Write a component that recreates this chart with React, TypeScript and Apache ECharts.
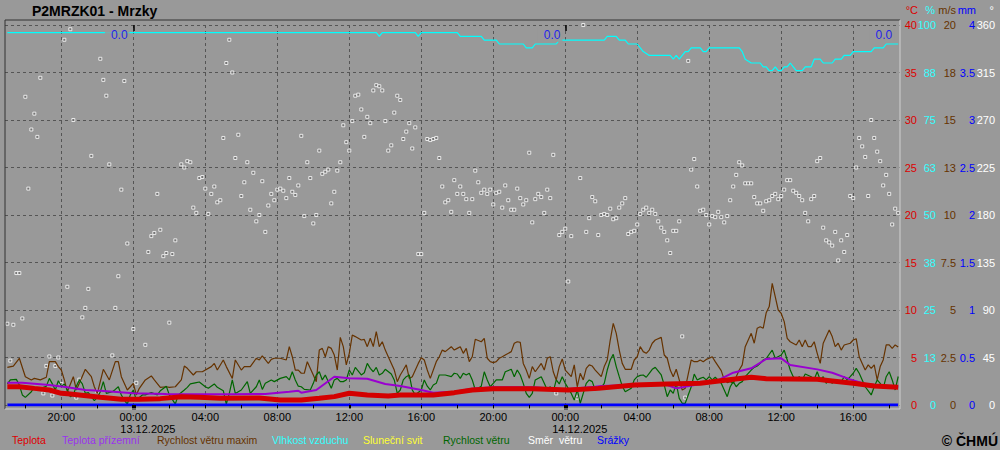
import React, { useEffect, useRef } from "react";
import * as echarts from "echarts";

const FONT = "'Liberation Sans', Arial, sans-serif";

// Time is counted in 10-minute slots from 12.12.2025 17:00 (= hour -7 relative to 13.12.2025 00:00)
const SLOT0_HOUR = -7;
const slotHour = (s: number) => SLOT0_HOUR + s / 6;

// Teplota [slot, °C]
const teplota: [number, number][] = [
  [0, 1.93], [4, 1.93], [9, 1.75], [14, 1.58], [18, 1.23], [21, 1.15], [24, 1.05], [31, 0.81], [38, 0.6], [44, 0.6],
  [51, 0.67], [58, 0.88], [64, 0.81], [71, 0.7], [84, 0.74], [91, 0.53], [98, 0.53], [104, 0.7], [109, 0.88], [114, 1.23],
  [120, 1.05], [127, 0.95], [131, 1.05], [142, 1.05], [149, 1.3], [155, 1.58], [162, 1.72], [175, 1.72], [187, 1.58], [197, 1.75],
  [209, 2.11], [220, 2.21], [231, 2.28], [242, 2.7], [248, 2.91], [253, 2.77], [270, 2.7], [275, 2.53], [282, 2.28], [289, 2.0], [297, 1.86],
];

// Teplota přízemní [slot, °C]
const teplotaPrizemni: [number, number][] = [
  [0, 2.35], [5, 2.35], [14, 2.11], [20, 1.86], [26, 1.58], [31, 1.51], [42, 1.23], [53, 1.16], [64, 1.12], [75, 1.12],
  [86, 1.16], [94, 1.4], [97, 1.5], [98, 1.3], [103, 1.58], [109, 2.98], [114, 2.81], [120, 2.77], [126, 2.21], [131, 2.0],
  [138, 1.58], [142, 1.3], [149, 1.4], [155, 1.72], [162, 1.86], [175, 1.86], [186, 1.65], [196, 1.93], [198, 2.0], [209, 2.11],
  [220, 2.11], [223, 1.75], [231, 2.21], [236, 2.46], [242, 3.4], [248, 3.86], [253, 4.84], [258, 4.91], [261, 4.21], [270, 3.75],
  [275, 3.4], [281, 2.7], [286, 2.21], [296, 1.93], [297, 1.93],
];

// Vlhkost vzduchu [slot, %]
const vlhkost: [number, number][] = [
  [0, 98], [123, 98], [124, 97], [125, 98], [136, 98], [137, 97], [138, 98], [150, 98], [151, 97], [158, 97],
  [159, 96], [163, 96], [164, 95], [172, 95], [173, 94], [175, 94], [176, 95], [183, 95], [184, 96], [199, 96],
  [200, 97], [203, 97], [204, 96], [206, 96], [207, 95], [210, 95], [211, 94], [212, 93], [214, 92], [221, 92],
  [222, 91], [223, 92], [224, 91], [225, 92], [226, 93], [227, 93], [228, 94], [231, 94], [232, 93], [233, 93],
  [234, 94], [244, 94], [245, 93], [246, 91], [248, 90], [251, 90], [252, 89], [253, 89], [254, 88], [255, 88],
  [256, 89], [257, 88], [258, 88], [259, 89], [260, 89], [261, 90], [262, 89], [263, 88], [265, 88], [266, 89],
  [268, 89], [269, 91], [271, 91], [272, 90], [275, 90], [276, 91], [278, 91], [279, 92], [281, 92], [282, 93],
  [288, 93], [289, 94], [292, 94], [293, 95], [297, 95],
];

// Rychlost větru maxim [slot, m/s]
const rychlostMaxim: [number, number][] = [
  [0, 1.98], [2, 2.05], [4, 2.46], [6, 1.49], [8, 1.32], [9, 1.4], [11, 1.32], [13, 1.46], [14, 2.28], [16, 2.28],
  [17, 2.02], [18, 1.84], [19, 1.32], [20, 0.7], [22, 1.49], [23, 0.79], [24, 1.14], [26, 1.88], [28, 1.49], [29, 0.96],
  [30, 0.61], [32, 1.88], [34, 1.32], [36, 2.28], [37, 2.28], [38, 1.49], [40, 0.79], [41, 0.96], [42, 1.14], [43, 0.53],
  [44, 0.88], [46, 1.32], [48, 1.53], [49, 1.32], [51, 0.93], [53, 0.96], [54, 0.93], [56, 0.96], [58, 1.32], [59, 2.05],
  [60, 1.93], [62, 1.58], [63, 1.75], [65, 1.75], [68, 2.02], [69, 2.19], [70, 1.84], [72, 2.37], [73, 2.02], [75, 1.4],
  [76, 2.37], [78, 1.84], [79, 2.02], [81, 2.02], [83, 2.46], [84, 2.37], [85, 2.58], [87, 2.19], [88, 2.4], [89, 2.46],
  [91, 2.46], [93, 2.37], [94, 3.07], [95, 2.54], [96, 1.84], [97, 1.84],
  [98, 1.67], [99, 1.67], [100, 2.28], [102, 1.58], [103, 1.23], [104, 2.89], [105, 2.98], [106, 2.54], [107, 3.07], [108, 2.98],
  [109, 2.63], [110, 1.84], [111, 3.56], [112, 3.07], [113, 2.11], [114, 2.72], [115, 3.68], [116, 3.6], [118, 3.42], [119, 3.45],
  [120, 3.07], [121, 3.51], [122, 3.07], [123, 3.86], [124, 3.07], [125, 3.33], [126, 2.89], [127, 2.54], [129, 1.84], [130, 1.23],
  [131, 1.58], [132, 1.84], [133, 2.11], [134, 1.4], [135, 1.49], [137, 2.19], [138, 2.49], [139, 2.37], [140, 1.84], [141, 1.4],
  [143, 2.28], [144, 2.54], [145, 2.89], [146, 2.81], [148, 3.07], [149, 2.89], [150, 2.98], [151, 3.07], [152, 2.72], [153, 2.98],
  [154, 2.28], [155, 2.54], [156, 3.46], [158, 3.33], [159, 3.51], [160, 2.46], [161, 2.28], [162, 2.23], [163, 2.28], [164, 2.46],
  [165, 2.54], [166, 2.63], [168, 2.81], [169, 3.25], [170, 3.33], [171, 3.3], [172, 2.19], [173, 1.84], [174, 1.4], [175, 2.02],
  [176, 1.75], [178, 2.19], [179, 1.84], [180, 2.46], [181, 2.54], [182, 1.75], [183, 1.32], [184, 2.02], [185, 2.42], [186, 1.84],
  [188, 1.49], [189, 2.11], [190, 0.96], [191, 1.67], [192, 1.32], [193, 1.93], [194, 2.11], [195, 2.05], [196, 1.84],
  [198, 1.49], [199, 2.02], [200, 2.37], [201, 3.42], [202, 4.3], [203, 3.77], [204, 2.89], [205, 2.19], [206, 1.88], [208, 1.88],
  [209, 2.37], [210, 2.54], [211, 3.07], [212, 2.81], [213, 2.72], [214, 2.89], [215, 3.25], [216, 3.42], [218, 3.56], [219, 2.63],
  [220, 2.46], [221, 1.84], [222, 1.49], [223, 1.88], [224, 1.32], [225, 0.79], [226, 0.88], [228, 2.37], [229, 2.28], [230, 2.28],
  [231, 2.37], [232, 2.28], [233, 2.4], [234, 2.46], [235, 2.54], [236, 2.28], [238, 1.81], [239, 1.32], [240, 1.18], [241, 1.23],
  [242, 1.14], [243, 1.49], [244, 1.84], [245, 2.11], [246, 3.07], [248, 3.77], [249, 3.25], [250, 4.04], [251, 4.12], [252, 4.04],
  [253, 4.86], [254, 5.18], [255, 6.4], [256, 5.7], [257, 5.0], [258, 4.82], [259, 4.39], [260, 3.51], [261, 3.33], [263, 3.16],
  [264, 3.42], [265, 3.07], [266, 3.42], [267, 3.07], [268, 3.07], [269, 3.33], [270, 2.72], [271, 2.19], [272, 3.25], [274, 3.95],
  [275, 3.6], [276, 3.07], [277, 3.25], [278, 2.89], [279, 3.16], [281, 3.25], [282, 3.42], [283, 3.49], [284, 2.54], [285, 2.19],
  [286, 1.84], [287, 2.11], [288, 1.93], [289, 2.11], [290, 1.32], [291, 2.02], [292, 2.37], [293, 3.16], [294, 3.16], [295, 2.98],
  [296, 3.16], [297, 3.05],
];

// Rychlost větru [slot, m/s]
const rychlostVetru: [number, number][] = [
  [0, 1.11], [1, 1.32], [3, 1.35], [4, 1.05], [5, 0.53], [6, 0.4], [8, 0.7], [9, 0.93], [10, 0.88], [11, 0.79],
  [12, 0.93], [13, 0.99], [14, 1.4], [15, 1.11], [16, 0.79], [17, 1.28], [18, 0.99], [19, 1.11], [20, 0.79], [21, 0.44],
  [22, 0.53], [23, 0.99], [24, 1.32], [25, 1.11], [26, 0.61], [27, 0.65], [29, 0.23], [30, 0.4], [31, 0.7], [32, 1.23],
  [33, 0.61], [35, 0.7], [36, 0.82], [37, 0.96], [38, 0.53], [39, 0.26], [40, 0.05], [41, 0.53], [42, 0.79], [43, 0.26],
  [45, 0.53], [46, 0.53], [48, 0.65], [50, 0.53], [51, 0.75], [53, 0.99], [54, 0.53], [56, 0.05], [57, 0.53], [59, 0.79],
  [60, 0.93], [61, 1.11], [63, 1.18], [64, 1.21], [66, 0.96], [67, 0.88], [69, 1.11], [70, 0.93], [72, 0.75], [73, 0.05],
  [74, 0.61], [75, 1.32], [76, 0.61], [78, 0.79], [80, 1.23], [81, 0.61], [83, 0.96], [84, 1.32], [85, 0.82], [86, 1.14],
  [88, 1.32], [89, 1.23], [91, 1.4], [93, 1.49], [94, 1.32], [95, 1.75], [96, 1.32], [97, 0.99],
  [98, 0.96], [99, 0.82], [101, 0.79], [102, 1.14], [103, 1.58], [104, 1.75], [105, 1.32], [106, 1.58], [108, 0.88], [109, 1.32],
  [110, 1.4], [111, 1.23], [112, 1.23], [113, 1.32], [114, 1.84], [115, 1.58], [116, 1.98], [118, 1.58], [119, 1.7], [120, 2.19],
  [121, 1.93], [122, 1.75], [123, 1.98], [124, 1.58], [125, 1.67], [126, 1.88], [128, 1.63], [129, 1.32], [130, 0.61], [131, 0.79],
  [132, 1.32], [133, 1.49], [134, 1.58], [135, 0.79], [136, 0.53], [138, 0.79], [139, 1.32], [140, 0.99], [141, 0.79], [142, 1.05],
  [143, 1.14], [144, 1.58], [145, 1.58], [146, 1.58], [148, 1.49], [149, 1.67], [150, 1.63], [151, 1.4], [152, 1.67], [153, 1.58],
  [154, 1.67], [155, 1.32], [156, 0.79], [158, 0.99], [159, 1.75], [160, 1.32], [161, 0.96], [162, 1.14], [163, 1.32], [164, 1.32],
  [165, 1.32], [166, 1.75], [168, 1.88], [169, 1.49], [170, 1.84], [171, 1.58], [172, 1.14], [173, 0.61], [174, 0.4], [175, 0.61],
  [176, 1.32], [178, 1.49], [179, 1.14], [180, 0.79], [181, 0.96], [182, 0.7], [183, 1.32], [184, 1.11], [185, 1.49], [186, 1.14],
  [188, 0.61], [189, 0.26], [190, 0.79], [191, 0.09], [192, 0.61], [193, 1.14], [194, 1.32], [195, 1.23], [196, 0.79],
  [198, 0.93], [199, 1.14], [200, 1.84], [201, 2.37], [202, 2.67], [203, 2.02], [204, 1.49], [205, 0.99], [206, 0.7], [208, 0.88],
  [209, 1.32], [210, 1.49], [211, 1.56], [212, 1.58], [213, 1.46], [214, 1.67], [215, 1.88], [216, 1.98], [218, 1.58], [219, 1.05],
  [220, 0.44], [221, 0.79], [222, 0.61], [223, 1.14], [224, 0.35], [225, 0.09], [226, 0.09], [228, 0.96], [229, 1.63], [230, 1.32],
  [231, 1.4], [232, 1.46], [233, 1.32], [234, 1.49], [235, 1.32], [236, 1.46], [238, 1.14], [239, 0.79], [240, 0.44], [241, 0.96],
  [242, 1.23], [243, 0.96], [244, 1.14], [245, 1.23], [246, 1.49], [248, 1.84], [249, 1.98], [250, 2.05], [251, 2.19], [252, 2.37],
  [253, 2.44], [254, 2.67], [255, 2.89], [256, 2.46], [258, 2.63], [259, 2.89], [260, 2.37], [261, 1.84], [262, 1.49], [263, 1.32],
  [264, 1.49], [265, 1.32], [266, 1.63], [268, 1.49], [269, 1.35], [270, 1.75], [271, 1.32], [272, 1.49], [273, 1.14], [274, 1.32],
  [275, 1.14], [276, 1.32], [278, 1.23], [279, 1.49], [280, 1.32], [281, 1.49], [282, 1.67], [283, 1.93], [284, 1.67], [285, 1.32],
  [286, 0.96], [288, 0.53], [289, 0.96], [290, 1.32], [291, 1.14], [292, 0.88], [293, 1.49], [294, 1.75], [295, 1.32], [296, 0.79],
  [297, 1.5],
];

// Směr větru, one value per 10-minute slot (°), null = no dot
const smerVetru: (number | null)[] = [
  77, 42, 76, 125, 125, 82, 292, 205, 261, 276,
  254, 310, 11, 37, 46, 9, 37, 45, 20, 346,
  112, 356, 270, 7, 24, 83, 92, 110, 236, null,
  13, 328, 308, 293, 228, 47, 92, 122, 204, 307,
  153, null, 72, 21, null, null, 57, 145, 160, 163,
  200, 166, 141, 144, 78, 143, 156, null, 228, 225,
  231, 230, 187, 182, 215, 216, 205, 181, 200, 207,
  192, 194, 253, 324, 346, 315, 234, 256, 198, 211,
  230, 185, 220, 174, 180, 212, 164, 189, 200, 194,
  204, 205, 203, 196, 215, 202, 199, 208, 255, 179,
  230, 215, 172, 180, 241, 219, 221, 223, 191, 202,
  222, 230, 265, 249, 241, 269, 293, 294, 280, 254,
  273, 267, 298, 303, 302, 298, 269, 241, 246, 277,
  293, 289, 252, 259, 267, 243, 263, 143, 143, 182,
  252, 251, 252, 253, 234, 207, 192, 194, 183, 213,
  200, 207, 200, 195, 182, 195, 222, 211, 201, 204,
  200, 204, 190, 201, 202, 187, 208, 194, 185, 185,
  205, 196, 190, 194, 239, 173, 195, 200, 197, 182,
  204, 196, 237, 11, 161, 164, 167, 117, 160, null,
  7, 215, 360, 164, 177, 197, 193, 161, 180, 181,
  180, 186, 176, 177, 187, 191, 196, 162, 164, 165,
  171, 181, 185, 187, 182, 185, 181, 174, 168, 164,
  156, 144, 165, 165, 174, 65, 7, 326, 223, 233,
  207, 184, 185, 180, 171, 179, 178, 183, 178, 173,
  179, 194, 207, 218, 230, 227, 210, 210, 210, 197,
  191, 191, 184, 193, 194, 198, 200, 195, 198, 204,
  213, 213, 203, 201, 198, 194, 182, 174, 195, 198,
  231, 234, 168, 156, 154, 151, 164, 137, 156, 145,
  161, 198, 196, 225, 253, 245, 235, 198, 270, 253,
  240, 231, 208, 218, 200, 171, 186, 182,
];

const srazky: [number, number][] = [[0, 0], [297, 0]];
const slunecniSvit: [number, number][] = [[0, 0], [297, 0]];

const dailyPrecipTotals = [0.0, 0.0, 0.0];
const dailyPrecipLabelHours = [-0.18, 23.87, 42.31];

// x axis (hours relative to 13.12.2025 00:00)
const X_MIN = -7.13;
const X_MAX = 42.6;
const minorTickHours = [-6, -4, -2, 0, 2, 4, 6, 8, 10, 12, 14, 16, 18, 20, 22, 24, 26, 28, 30, 32, 34, 36, 38, 40, 42];
const timeLabelHours = [-4, 0, 4, 8, 12, 16, 20, 24, 28, 32, 36, 40];
const timeLabels = ["20:00", "00:00", "04:00", "08:00", "12:00", "16:00", "20:00", "00:00", "04:00", "08:00", "12:00", "16:00"];
const midnightHours = [0, 24];
const dateLabels = ["13.12.2025", "14.12.2025"];
const noonHours = [12, 36];

// right-hand y axes tick labels
const tempTicks = ["0", "5", "10", "15", "20", "25", "30", "35", "40"];
const humTicks = ["0", "13", "25", "38", "50", "63", "75", "88", "100"];
const windTicks = ["0", "2.5", "5", "7.5", "10", "13", "15", "18", "20"];
const precipTicks = ["0", "0.5", "1", "1.5", "2", "2.5", "3", "3.5", "4"];
const dirTicks = ["0", "45", "90", "135", "180", "225", "270", "315", "360"];

const C = {
  bg: "#999999",
  red: "#d40000",
  purple: "#9a00d0",
  brown: "#663300",
  cyan: "#00ffff",
  yellow: "#ffff00",
  green: "#006600",
  white: "#ffffff",
  blue: "#0000ff",
  grid: "#555555",
};

const legendItems = [
  { name: "Teplota", color: "#dd0000" },
  { name: "Teplota přízemní", color: "#9933ee" },
  { name: "Rychlost větru maxim", color: "#663300" },
  { name: "Vlhkost vzduchu", color: "#33ffff" },
  { name: "Sluneční svit", color: "#ffff33" },
  { name: "Rychlost větru", color: "#006600" },
  { name: "Směr  větru", color: "#ffffff" },
  { name: "Srážky", color: "#0000ff" },
];
const legendLeft = [12, 62, 157, 272, 363, 443, 527, 597];

const toXY = (pairs: [number, number][]) => pairs.map(([s, v]) => [slotHour(s), v]);

export default function App() {
  const ref = useRef<HTMLDivElement>(null);

  useEffect(() => {
    if (!ref.current) return;
    const chart = echarts.init(ref.current, undefined, { renderer: "svg" });

    const baseX: any = {
      type: "value",
      min: X_MIN,
      max: X_MAX,
      position: "bottom",
      axisLine: { show: false, onZero: false },
      splitLine: { show: false },
      axisLabel: { show: false },
      axisTick: { show: false },
    };

    const yAxis = (max: number, interval: number, labels: string[], color: string, margin: number, extra: any = {}) => ({
      type: "value",
      min: 0,
      max,
      interval,
      position: "right",
      offset: 0,
      axisLine: { show: false, onZero: false },
      axisTick: { show: false },
      splitLine: { show: false },
      axisLabel: {
        color,
        fontSize: 11,
        fontFamily: FONT,
        align: "right",
        margin,
        formatter: (v: number) => labels[Math.round(v / interval)] ?? "",
      },
      ...extra,
    });

    const lineSeries = (name: string, data: any[], color: string, width: number, yAxisIndex: number) => ({
      name,
      type: "line",
      xAxisIndex: 0,
      yAxisIndex,
      data,
      symbol: "none",
      silent: true,
      lineStyle: { color, width },
      itemStyle: { color },
    });

    const option: any = {
      animation: false,
      backgroundColor: C.bg,
      textStyle: { fontFamily: FONT },
      grid: { left: 5, right: 100, top: 25, bottom: 45 },
      xAxis: [
        {
          ...baseX,
          axisTick: { show: true, customValues: minorTickHours, length: 4, lineStyle: { color: "#000", width: 1 } },
          axisLabel: {
            show: true,
            customValues: timeLabelHours,
            formatter: (v: number) => timeLabels[timeLabelHours.indexOf(Math.round(v))] ?? "",
            color: "#000",
            fontSize: 11,
            fontFamily: FONT,
            margin: 6,
          },
          z: 10,
        },
        {
          ...baseX,
          axisTick: { show: false, customValues: timeLabelHours },
          splitLine: { show: true, lineStyle: { color: C.grid, width: 1, type: [3, 3] } },
        },
        {
          ...baseX,
          axisTick: { show: true, customValues: midnightHours, length: 5, lineStyle: { color: "#000", width: 4 } },
          axisLabel: {
            show: true,
            customValues: midnightHours,
            formatter: (v: number) => dateLabels[midnightHours.indexOf(Math.round(v))] ?? "",
            color: "#000",
            fontSize: 11,
            fontFamily: FONT,
            margin: 18,
            align: "left",
            padding: [0, 0, 0, -13],
          },
          z: 10,
        },
        {
          ...baseX,
          axisTick: { show: true, customValues: noonHours, length: 4, lineStyle: { color: "#000", width: 2 } },
          z: 10,
        },
        {
          ...baseX,
          position: "top",
          axisTick: { show: true, inside: true, customValues: midnightHours, length: 6, lineStyle: { color: "#000", width: 1.5 } },
          z: 10,
        },
      ],
      yAxis: [
        yAxis(40, 5, tempTicks, "#dd0000", 17, {
          splitLine: { show: true, lineStyle: { color: C.grid, width: 1, type: [3, 3] } },
        }),
        yAxis(100, 12.5, humTicks, "#33ffff", 36),
        yAxis(20, 2.5, windTicks, "#663300", 56),
        yAxis(4, 0.5, precipTicks, "#0000ff", 75),
        yAxis(360, 45, dirTicks, "#ffffff", 95),
      ],
      legend: legendItems.map((it, i) => ({
        show: true,
        left: legendLeft[i] - 5,
        top: 434,
        padding: 0,
        selectedMode: false,
        icon: "rect",
        itemWidth: 0,
        itemHeight: 0,
        itemStyle: { opacity: 0 },
        textStyle: { fontSize: 10.5, fontFamily: FONT, color: it.color },
        data: [{ name: it.name, textStyle: { color: it.color } }],
      })),
      series: [
        lineSeries("Vlhkost vzduchu", toXY(vlhkost), C.cyan, 1.2, 1),
        lineSeries("Rychlost větru maxim", toXY(rychlostMaxim), C.brown, 1.2, 2),
        lineSeries("Rychlost větru", toXY(rychlostVetru), C.green, 1.2, 2),
        lineSeries("Teplota přízemní", toXY(teplotaPrizemni), C.purple, 2, 0),
        lineSeries("Teplota", toXY(teplota), C.red, 5, 0),
        lineSeries("Sluneční svit", toXY(slunecniSvit), C.yellow, 2, 3),
        lineSeries("Srážky", toXY(srazky), C.blue, 3, 3),
        {
          name: "Směr  větru",
          type: "scatter",
          xAxisIndex: 0,
          yAxisIndex: 4,
          silent: true,
          symbol: "rect",
          symbolSize: 3,
          itemStyle: { color: "#6a6a6a", borderColor: "#ffffff", borderWidth: 1 },
          data: smerVetru
            .map((v, i) => (v === null ? null : [slotHour(i), v]))
            .filter((d) => d !== null),
        },
        {
          name: "Denní srážky",
          type: "scatter",
          xAxisIndex: 0,
          yAxisIndex: 0,
          silent: true,
          symbolSize: 1,
          itemStyle: { color: "rgba(0,0,0,0)" },
          z: 20,
          data: dailyPrecipTotals.map((v, i) => [dailyPrecipLabelHours[i], 38.95, v]),
          label: {
            show: true,
            position: "left",
            distance: 0,
            formatter: (p: any) => Number(p.value[2]).toFixed(1),
            color: C.blue,
            fontSize: 12,
            fontFamily: FONT,
            backgroundColor: C.bg,
            padding: [1, 2, 1, 6],
          },
        },
      ],
      graphic: [
        { type: "line", z: 100, shape: { x1: 5, y1: 20, x2: 900, y2: 20 }, style: { stroke: "#333333", lineWidth: 1 } },
        { type: "line", z: 100, shape: { x1: 5, y1: 20, x2: 5, y2: 409 }, style: { stroke: "#333333", lineWidth: 1 } },
        { type: "line", z: 100, shape: { x1: 900, y1: 20, x2: 900, y2: 409 }, style: { stroke: "#d0d0d0", lineWidth: 1 } },
        { type: "line", z: 100, shape: { x1: 5, y1: 409, x2: 900, y2: 409 }, style: { stroke: "#d0d0d0", lineWidth: 1 } },
        {
          type: "text", x: 32, y: 11, z: 100,
          style: { text: "P2MRZK01 - Mrzky", fill: "#000", font: `bold 14px ${FONT}`, align: "left", verticalAlign: "middle", textAlign: "left", textVerticalAlign: "middle" },
        },
        {
          type: "text", x: 998, y: 441, z: 100,
          style: { text: "© ČHMÚ", fill: "#000", font: `bold 14px ${FONT}`, align: "right", verticalAlign: "middle", textAlign: "right", textVerticalAlign: "middle" },
        },
        ...[
          { t: "°C", x: 918, c: "#dd0000" },
          { t: "%", x: 935, c: "#33ffff" },
          { t: "m/s", x: 956, c: "#663300" },
          { t: "mm", x: 976, c: "#0000ff" },
          { t: "°", x: 994, c: "#ffffff" },
        ].map((u) => ({
          type: "text", x: u.x, y: 10, z: 100,
          style: { text: u.t, fill: u.c, font: `11px ${FONT}`, align: "right", verticalAlign: "middle", textAlign: "right", textVerticalAlign: "middle" },
        })),
      ],
    };

    chart.setOption(option);
    return () => chart.dispose();
  }, []);

  return (
    <div
      ref={ref}
      style={{ position: "absolute", left: 0, top: 0, width: 1000, height: 450, background: C.bg }}
    />
  );
}
